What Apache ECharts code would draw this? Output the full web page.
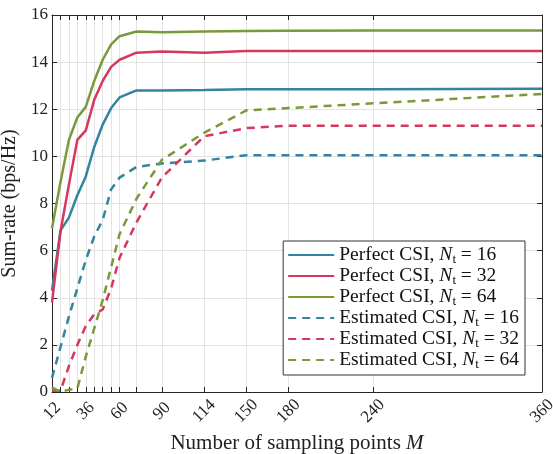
<!DOCTYPE html>
<html>
<head>
  <meta charset="UTF-8">
  <title>Sum-rate vs sampling points</title>
  <script src="https://cdn.jsdelivr.net/npm/echarts@6/dist/echarts.min.js"></script>
  <style>
    body { margin: 0; padding: 0; background: #fff; }
    #chart { width: 553px; height: 454px; }
  </style>
</head>
<body>
  <div id="chart"></div>
  <script>
    // sampling points M (x positions of the data and of the grid lines)
    var samplingPoints = [12, 18, 24, 30, 36, 42, 48, 54, 60, 72, 90, 120, 150, 180, 240, 360];
    // labelled ticks (the one at 120 is printed as 114 in the figure)
    var tickValues = [12, 36, 60, 90, 120, 150, 180, 240, 360];
    var tickLabels = ['12', '36', '60', '90', '114', '150', '180', '240', '360'];

    var perfect16 = [4.3, 6.85, 7.4, 8.35, 9.15, 10.4, 11.35, 12.05, 12.5, 12.8, 12.8, 12.82, 12.85, 12.85, 12.85, 12.87];
    var perfect32 = [3.8, 6.8, 8.8, 10.7, 11.1, 12.4, 13.2, 13.8, 14.1, 14.4, 14.45, 14.4, 14.47, 14.47, 14.47, 14.47];
    var perfect64 = [6.95, 8.9, 10.7, 11.65, 12.1, 13.2, 14.1, 14.75, 15.1, 15.3, 15.27, 15.3, 15.32, 15.33, 15.34, 15.34];
    var estimated16 = [0.6, 1.9, 3.2, 4.4, 5.6, 6.6, 7.3, 8.6, 9.1, 9.55, 9.7, 9.82, 10.05, 10.05, 10.05, 10.05];
    var estimated32 = [0.05, 0.05, 1.1, 2.0, 2.8, 3.3, 3.5, 4.4, 5.7, 7.2, 9.1, 10.85, 11.2, 11.3, 11.3, 11.3];
    var estimated64 = [0.2, 0.0, 0.1, 0.15, 1.5, 2.7, 3.9, 5.3, 6.7, 8.2, 9.85, 11.0, 11.95, 12.05, 12.25, 12.65];

    var blue = '#33849e';
    var red = '#d6385d';
    var green = '#7a993b';
    var font = 'Liberation Serif';

    function pairs(vals) {
      return samplingPoints.map(function (m, i) { return [m, vals[i]]; });
    }

    function makeSeries(name, vals, color, dashed) {
      return {
        name: name,
        type: 'line',
        data: pairs(vals),
        symbol: 'none',
        lineStyle: { color: color, width: 2.5, type: dashed ? [8, 6] : 'solid' },
        itemStyle: { color: color }
      };
    }

    var chart = echarts.init(document.getElementById('chart'));

    var option = {
      animation: false,
      grid: { left: 52, right: 11, top: 15, bottom: 62, outerBoundsMode: 'none' },
      xAxis: [{
        type: 'value',
        min: 12,
        max: 360,
        name: '{r|Number of sampling points }{i|M}',
        nameLocation: 'middle',
        nameGap: 36,
        nameTextStyle: {
          rich: {
            r: { fontFamily: font, fontSize: 21, color: '#222' },
            i: { fontFamily: font, fontSize: 21, fontStyle: 'italic', color: '#222' }
          }
        },
        axisLine: { onZero: false, lineStyle: { color: '#262626', width: 1 } },
        axisTick: { inside: true, length: 5, customValues: samplingPoints, lineStyle: { color: '#262626' } },
        axisLabel: {
          customValues: tickValues,
          rotate: 45,
          align: 'center',
          verticalAlign: 'middle',
          fontFamily: font,
          fontSize: 17,
          color: '#222',
          margin: 19,
          formatter: function (v) {
            var k = tickValues.indexOf(v);
            return k >= 0 ? tickLabels[k] : '';
          }
        },
        splitLine: { show: true, lineStyle: { color: '#e3e3e3', width: 1 } }
      }, {
        type: 'value',
        position: 'top',
        min: 12,
        max: 360,
        axisLine: { show: true, onZero: false, lineStyle: { color: '#262626', width: 1 } },
        axisTick: { inside: true, length: 5, customValues: samplingPoints, lineStyle: { color: '#262626' } },
        axisLabel: { show: false },
        splitLine: { show: false }
      }],
      yAxis: [{
        type: 'value',
        min: 0,
        max: 16,
        interval: 2,
        name: 'Sum-rate (bps/Hz)',
        nameLocation: 'middle',
        nameGap: 23,
        nameTextStyle: { fontFamily: font, fontSize: 20, color: '#222' },
        axisLine: { show: true, onZero: false, lineStyle: { color: '#262626', width: 1 } },
        axisTick: { show: true, inside: true, length: 5, lineStyle: { color: '#262626' } },
        axisLabel: { fontFamily: font, fontSize: 17, color: '#222', margin: 4 },
        splitLine: { show: true, lineStyle: { color: '#e3e3e3', width: 1 } }
      }, {
        type: 'value',
        position: 'right',
        min: 0,
        max: 16,
        interval: 2,
        axisLine: { show: true, onZero: false, lineStyle: { color: '#262626', width: 1 } },
        axisTick: { show: true, inside: true, length: 5, lineStyle: { color: '#262626' } },
        axisLabel: { show: false },
        splitLine: { show: false }
      }],
      legend: {
        orient: 'vertical',
        right: 28,
        top: 241,
        itemWidth: 46,
        itemHeight: 14,
        itemGap: 0,
        padding: [4, 6, 4, 4],
        backgroundColor: '#fff',
        borderColor: '#333',
        borderWidth: 1,
        borderRadius: 0,
        itemStyle: { opacity: 0 },
        data: ['p16', 'p32', 'p64', 'e16', 'e32', 'e64'],
        formatter: function (name) {
          var kind = name.charAt(0) === 'p' ? 'Perfect CSI, ' : 'Estimated CSI, ';
          return '{a|' + kind + '}{i|N}{s|t}{a| = ' + name.slice(1) + '}';
        },
        textStyle: {
          rich: {
            a: { fontFamily: font, fontSize: 19.5, color: '#111', lineHeight: 22 },
            i: { fontFamily: font, fontSize: 19.5, fontStyle: 'italic', color: '#111', lineHeight: 22 },
            s: { fontFamily: font, fontSize: 13, color: '#111', lineHeight: 12, verticalAlign: 'bottom' }
          }
        }
      },
      series: [
        makeSeries('p16', perfect16, blue, false),
        makeSeries('p32', perfect32, red, false),
        makeSeries('p64', perfect64, green, false),
        makeSeries('e16', estimated16, blue, true),
        makeSeries('e32', estimated32, red, true),
        makeSeries('e64', estimated64, green, true)
      ]
    };

    chart.setOption(option);
  </script>
</body>
</html>
